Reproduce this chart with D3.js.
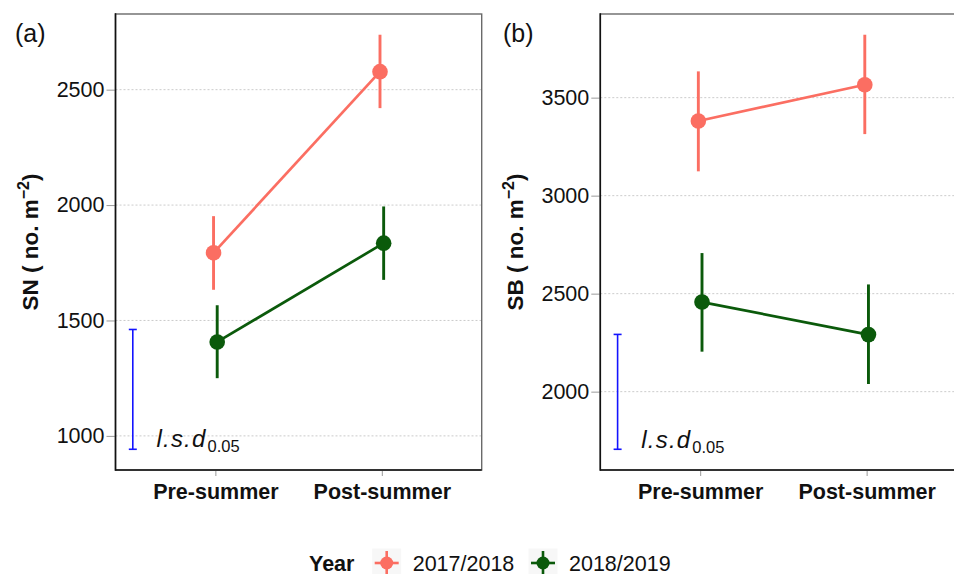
<!DOCTYPE html>
<html>
<head>
<meta charset="utf-8">
<script src="https://cdn.jsdelivr.net/npm/d3@7"></script>
<style>
  body { margin: 0; background: #fff; }
  svg { display: block; font-family: "Liberation Sans", Arial, sans-serif; }
</style>
</head>
<body>
<svg id="chart" width="954" height="574" viewBox="0 0 954 574"></svg>
<script>
// data
const periods = ["Pre-summer", "Post-summer"];
const years = ["2017/2018", "2018/2019"];
const colors = ["#FB6E62", "#0B5A0B"];

const sn_mean_2017 = [1793, 2578];
const sn_low_2017 = [1633, 2420];
const sn_high_2017 = [1952, 2738];
const sn_mean_2018 = [1407, 1835];
const sn_low_2018 = [1250, 1676];
const sn_high_2018 = [1566, 1994];
const sn_lsd = [942, 1461];
const sn_ticks = [1000, 1500, 2000, 2500];

const sb_mean_2017 = [3381, 3566];
const sb_low_2017 = [3124, 3314];
const sb_high_2017 = [3634, 3821];
const sb_mean_2018 = [2457, 2291];
const sb_low_2018 = [2204, 2039];
const sb_high_2018 = [2707, 2547];
const sb_lsd = [1706, 2292];
const sb_ticks = [2000, 2500, 3000, 3500];

const svg = d3.select('#chart');
const font = '"Liberation Sans", Arial, sans-serif';

function buildSeries(means, lows, highs) {
    return years.map((y, k) => periods.map((p, i) => ({
        year: y, k: k, period: p, mean: means[k][i], low: lows[k][i], high: highs[k][i]
    })));
}

function drawPanel(opts) {
    const top = 14, bottom = 470;
    const left = opts.left, right = left + 366.2;
    const series = opts.series;

    const all = series.flat();
    const lo = d3.min([d3.min(all, d => d.low), opts.lsd[0]]);
    const hi = d3.max([d3.max(all, d => d.high), opts.lsd[1]]);
    const pad = (hi - lo) * 0.05;

    const y_scale = d3.scaleLinear()
        .domain([lo - pad, hi + pad])
        .range([bottom, top]);
    const x_scale = d3.scalePoint()
        .domain(periods)
        .range([left, right])
        .padding(0.6);
    const step = x_scale.step();
    const dodge = k => (k === 0 ? -1 : 1) * step * 0.011;

    const g = svg.append('g');

    // grid
    g.selectAll('line.grid')
        .data(opts.ticks)
        .enter().append('line')
        .attr('x1', left).attr('x2', right)
        .attr('y1', d => y_scale(d)).attr('y2', d => y_scale(d))
        .attr('stroke', '#b5b5b5')
        .attr('stroke-width', 0.7)
        .attr('stroke-dasharray', '2,2');

    // panel border
    g.append('rect')
        .attr('x', left).attr('y', top)
        .attr('width', right - left).attr('height', bottom - top)
        .attr('fill', 'none')
        .attr('stroke', '#6a6a6a')
        .attr('stroke-width', 1.4);

    // axes
    const y_axis = d3.axisLeft(y_scale).tickValues(opts.ticks)
        .tickFormat(d3.format('d')).tickSize(9).tickPadding(2);
    const ya = g.append('g')
        .attr('transform', 'translate(' + left + ',0)')
        .call(y_axis);
    const x_axis = d3.axisBottom(x_scale).tickSize(6);
    const xa = g.append('g')
        .attr('transform', 'translate(0,' + bottom + ')')
        .call(x_axis);
    [ya, xa].forEach(a => {
        a.attr('font-family', font);
        a.select('.domain').remove();
        a.selectAll('.tick line').attr('stroke', '#9a9a9a').attr('stroke-width', 1);
    });
    ya.selectAll('.tick text')
        .attr('font-size', 21.5).attr('fill', '#111');
    xa.selectAll('.tick text')
        .attr('font-size', 21.5).attr('font-weight', 'bold').attr('fill', '#111')
        .attr('y', 29).attr('dy', 0);

    g.append('line')
        .attr('x1', left).attr('x2', left).attr('y1', top - 0.7).attr('y2', bottom + 0.7)
        .attr('stroke', '#111').attr('stroke-width', 1.6);
    g.append('line')
        .attr('x1', left).attr('x2', right).attr('y1', bottom).attr('y2', bottom)
        .attr('stroke', '#111').attr('stroke-width', 1.6);

    // lsd bar
    const lsd_x = left + 17.3;
    const lsd = g.append('g').attr('stroke', '#1414ff').attr('stroke-width', 1.6);
    lsd.append('line')
        .attr('x1', lsd_x).attr('x2', lsd_x)
        .attr('y1', y_scale(opts.lsd[0])).attr('y2', y_scale(opts.lsd[1]));
    opts.lsd.forEach(v => {
        lsd.append('line')
            .attr('x1', lsd_x - 4).attr('x2', lsd_x + 4)
            .attr('y1', y_scale(v)).attr('y2', y_scale(v));
    });
    const lt = g.append('text')
        .attr('x', left + 41)
        .attr('y', opts.lsdTextY)
        .attr('font-size', 24)
        .attr('fill', '#111');
    lt.append('tspan').attr('font-style', 'italic').attr('letter-spacing', 1.2).text('l.s.d');
    lt.append('tspan').attr('font-size', 16.5).attr('dx', 1).attr('dy', 5).text('0.05');

    // lines, error bars, points
    const line = d3.line()
        .x(d => x_scale(d.period) + dodge(d.k))
        .y(d => y_scale(d.mean));
    series.forEach((s, k) => {
        const sg = g.append('g');
        sg.append('path')
            .datum(s)
            .attr('d', line)
            .attr('fill', 'none')
            .attr('stroke', colors[k])
            .attr('stroke-width', 2.7);
        sg.selectAll('line.err')
            .data(s)
            .enter().append('line')
            .attr('x1', d => x_scale(d.period) + dodge(k))
            .attr('x2', d => x_scale(d.period) + dodge(k))
            .attr('y1', d => y_scale(d.low))
            .attr('y2', d => y_scale(d.high))
            .attr('stroke', colors[k])
            .attr('stroke-width', 2.9);
        sg.selectAll('circle')
            .data(s)
            .enter().append('circle')
            .attr('cx', d => x_scale(d.period) + dodge(k))
            .attr('cy', d => y_scale(d.mean))
            .attr('r', 7.8)
            .attr('fill', colors[k]);
    });

    // panel tag and y title
    svg.append('text')
        .attr('x', opts.tagX).attr('y', 42)
        .attr('font-size', 25).attr('fill', '#111')
        .text(opts.tag);
    const yt = svg.append('text')
        .attr('transform', 'translate(' + (left - 77.5) + ',' + ((top + bottom) / 2) + ') rotate(-90)')
        .attr('text-anchor', 'middle')
        .attr('font-size', 22.5).attr('font-weight', 'bold').attr('fill', '#111');
    yt.append('tspan').text(opts.ylab + ' ( no. m');
    yt.append('tspan').attr('font-size', 16).attr('dy', -9).text('\u22122');
    yt.append('tspan').attr('dy', 9).text(')');
}

drawPanel({
    left: 115.5,
    series: buildSeries([sn_mean_2017, sn_mean_2018], [sn_low_2017, sn_low_2018], [sn_high_2017, sn_high_2018]),
    lsd: sn_lsd,
    ticks: sn_ticks,
    tag: '(a)', tagX: 15,
    ylab: 'SN',
    lsdTextY: 447
});

drawPanel({
    left: 600.3,
    series: buildSeries([sb_mean_2017, sb_mean_2018], [sb_low_2017, sb_low_2018], [sb_high_2017, sb_high_2018]),
    lsd: sb_lsd,
    ticks: sb_ticks,
    tag: '(b)', tagX: 503,
    ylab: 'SB',
    lsdTextY: 448
});

// legend
const legend = svg.append('g').attr('transform', 'translate(0,563)');
legend.append('text')
    .attr('x', 309).attr('y', 7.5)
    .attr('font-size', 21.5).attr('font-weight', 'bold').attr('fill', '#111')
    .text('Year');
const key_x = [386.7, 543];
years.forEach((y, k) => {
    const kg = legend.append('g').attr('transform', 'translate(' + key_x[k] + ',0)');
    kg.append('rect')
        .attr('x', -14.5).attr('y', -14.5).attr('width', 29).attr('height', 29)
        .attr('fill', '#f7f7f7');
    kg.append('line').attr('x1', -12).attr('x2', 12).attr('y1', 0).attr('y2', 0)
        .attr('stroke', colors[k]).attr('stroke-width', 2.6);
    kg.append('line').attr('x1', 0).attr('x2', 0).attr('y1', -12).attr('y2', 12)
        .attr('stroke', colors[k]).attr('stroke-width', 2.6);
    kg.append('circle').attr('r', 6.5).attr('fill', colors[k]);
    legend.append('text')
        .attr('x', key_x[k] + 26).attr('y', 7.5)
        .attr('font-size', 21.5).attr('fill', '#111')
        .text(y);
});
</script>
</body>
</html>
